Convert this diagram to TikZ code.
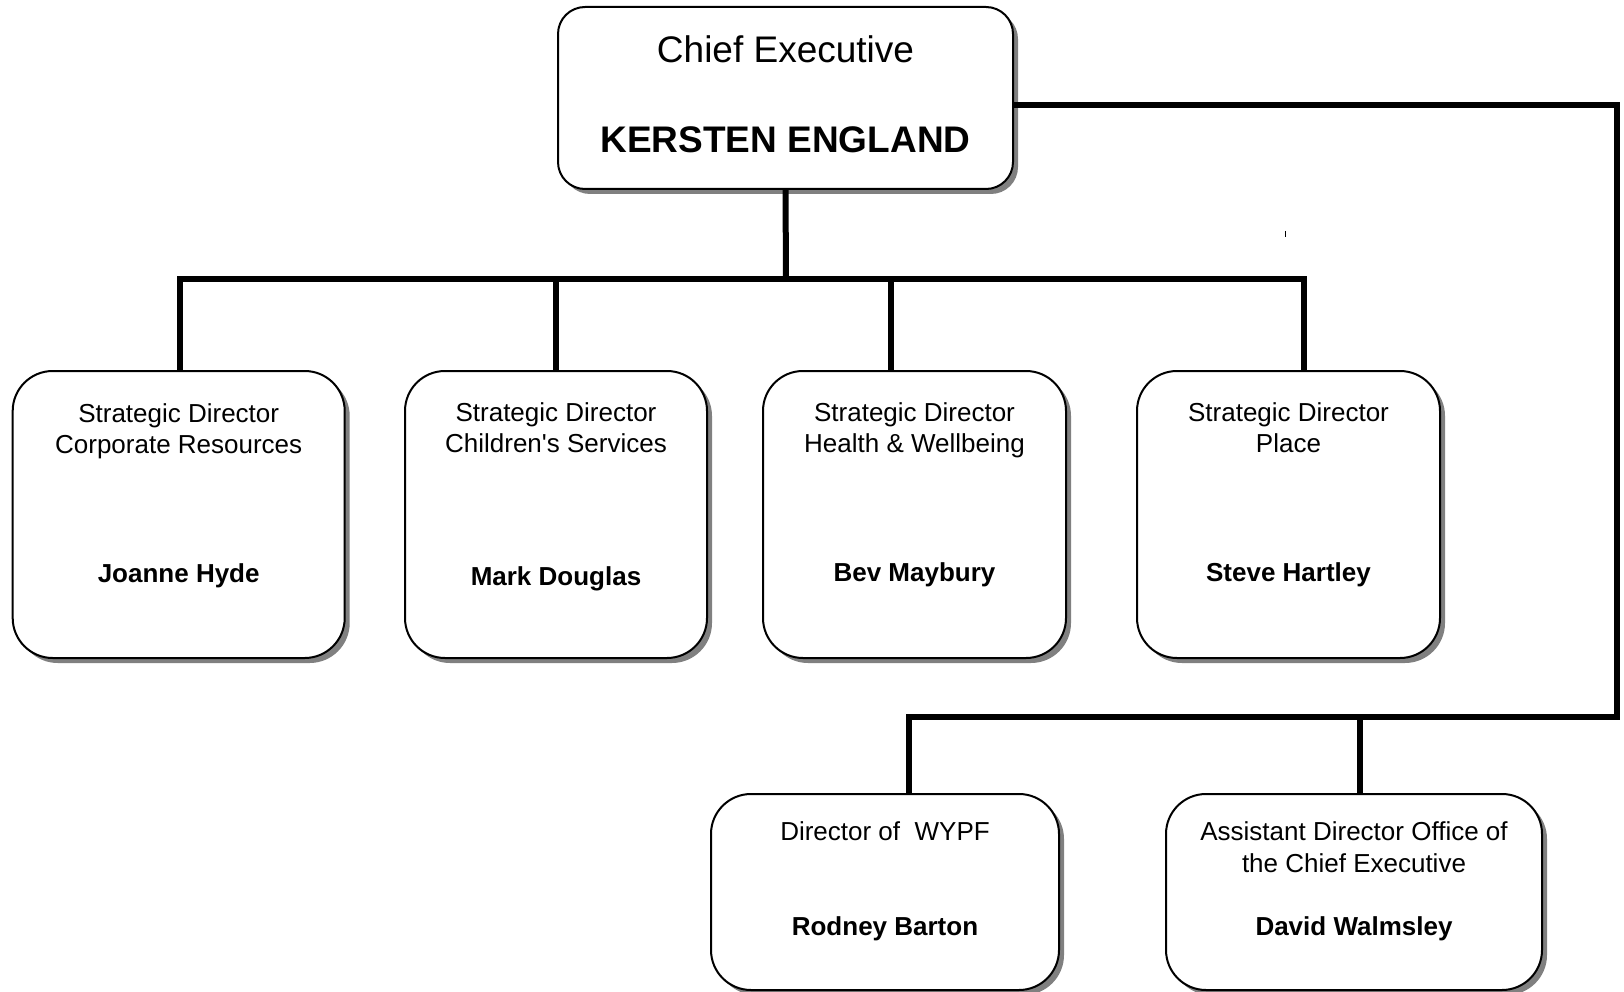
\documentclass[tikz,border=0pt]{standalone}
\usepackage{fontspec}
\setmainfont{Liberation Sans}
\usetikzlibrary{shadows}
\tikzset{
 box/.style={draw=black, line width=2pt, fill=white, rounded corners=40pt, inner sep=0pt,
   drop shadow={shadow xshift=5pt, shadow yshift=-5pt, fill=black!50, opacity=1}},
 conn/.style={line width=6pt},
 t26/.style={anchor=base, font=\fontsize{26}{30}\selectfont, inner sep=0pt},
 n26/.style={anchor=base, font=\fontsize{26}{30}\selectfont\bfseries, inner sep=0pt},
 t37/.style={anchor=base, font=\fontsize{37}{42}\selectfont, inner sep=0pt},
 n37/.style={anchor=base, font=\fontsize{37}{42}\selectfont\bfseries, inner sep=0pt},
}
\begin{document}
\begin{tikzpicture}[x=1pt,y=-1pt]
\useasboundingbox (0,0) rectangle (1624,992);

% boxes
\node[box, rounded corners=27pt, minimum width=455pt, minimum height=182pt] (top) at (785.5,98) {};
\node[box, minimum width=332pt, minimum height=287pt] (b1) at (178.7,514.5) {};
\node[box, minimum width=302pt, minimum height=287pt] (b2) at (556,514.5) {};
\node[box, minimum width=303pt, minimum height=287pt] (b3) at (914.5,514.5) {};
\node[box, minimum width=303pt, minimum height=287pt] (b4) at (1288.5,514.5) {};
\node[box, minimum width=348pt, minimum height=196pt] (b5) at (885,892) {};
\node[box, minimum width=376pt, minimum height=196pt] (b6) at (1354,892) {};

% texts
\node[t37] (topa) at (785.5,63) {Chief Executive};
\node[n37] (topb) at (785.5,153) {KERSTEN ENGLAND};

\node[t26] (b1a) at (178.7,422) {Strategic Director};
\node[t26] (b1b) at (178.7,453) {Corporate Resources};
\node[n26] (b1c) at (178.7,582) {Joanne Hyde};

\node[t26] (b2a) at (556,421) {Strategic Director};
\node[t26] (b2b) at (556,452) {Children\textquotesingle s Services};
\node[n26] (b2c) at (556,585) {Mark Douglas};

\node[t26] (b3a) at (914.5,421) {Strategic Director};
\node[t26] (b3b) at (914.5,452) {Health \& Wellbeing};
\node[n26] (b3c) at (914.5,581) {Bev Maybury};

\node[t26] (b4a) at (1288.5,421) {Strategic Director};
\node[t26] (b4b) at (1288.5,452) {Place};
\node[n26] (b4c) at (1288.5,581) {Steve Hartley};

\node[t26] (b5a) at (885,840) {Director of \ WYPF};
\node[n26] (b5c) at (885,935) {Rodney Barton};

\node[t26] (b6a) at (1354,840) {Assistant Director Office of};
\node[t26] (b6b) at (1354,872) {the Chief Executive};
\node[n26] (b6c) at (1354,935) {David Walmsley};

% connector points
\coordinate (bus0) at (786,279);
\coordinate (busL) at (180,279);
\coordinate (j2) at (556,279);
\coordinate (j3) at (891,279);
\coordinate (busR) at (1304,279);
\coordinate (ce) at (1013,105);
\coordinate (r1) at (1617,105);
\coordinate (r2) at (1617,717);
\coordinate (l2) at (909,717);
\coordinate (j6) at (1360,717);

% connectors
\draw[conn] (top.south) -- (bus0);
\draw[conn] (busL |- b1.north) -- (busL) -- (busR) -- (busR |- b4.north);
\draw[conn] (j2) -- (j2 |- b2.north);
\draw[conn] (j3) -- (j3 |- b3.north);
\draw[conn] (ce) -- (r1) -- (r2) -- (l2) -- (l2 |- b5.north);
\draw[conn] (j6) -- (j6 |- b6.north);

% stray tick
\coordinate (tk) at (1285,231);
\draw[line width=1pt] (tk) -- ++(0,6);
\end{tikzpicture}
\end{document}
